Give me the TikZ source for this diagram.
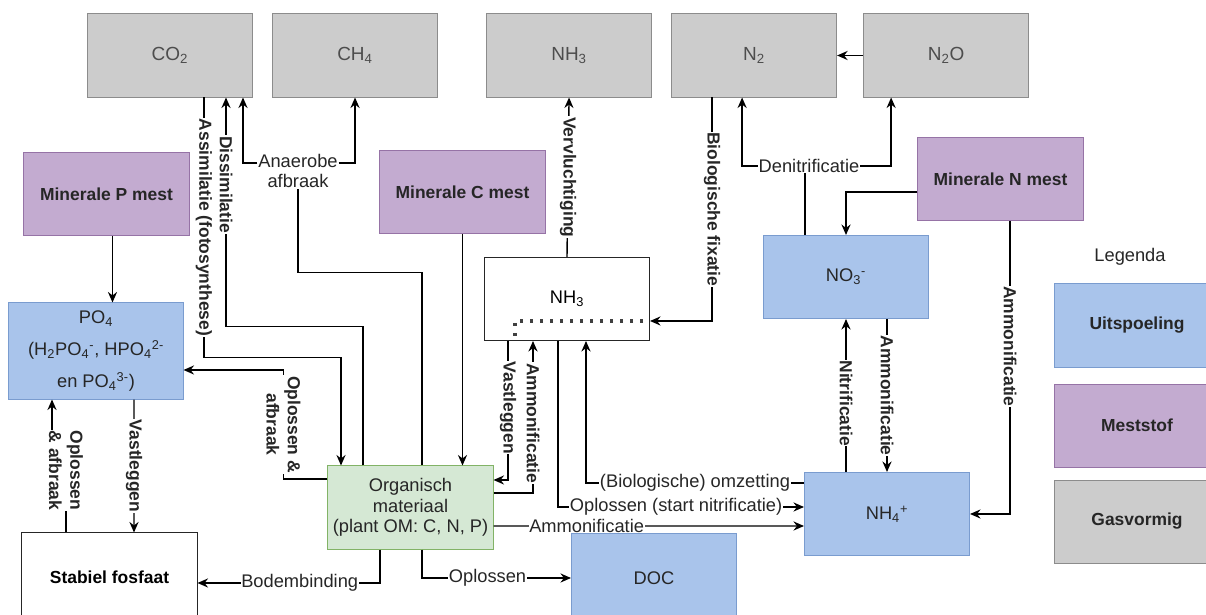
\documentclass[tikz,border=0pt]{standalone}
\usepackage{fontspec}
\setmainfont{Liberation Sans}
\usetikzlibrary{arrows.meta,calc,positioning}
\definecolor{gasfill}{HTML}{CCCCCC}
\definecolor{gasline}{HTML}{8C8C8C}
\definecolor{gastext}{HTML}{4D4D4D}
\definecolor{mestfill}{HTML}{C3ABD0}
\definecolor{mestline}{HTML}{9673A6}
\definecolor{poolfill}{HTML}{A9C4EB}
\definecolor{poolline}{HTML}{7A9CCF}
\definecolor{omfill}{HTML}{D5E8D4}
\definecolor{omline}{HTML}{82B366}
\tikzset{
  box/.style={minimum width=4.125cm, minimum height=2.075cm, line width=0.7pt, align=center, inner sep=2pt},
  gas/.style={box, fill=gasfill, draw=gasline, text=gastext, font=\fontsize{13.5}{15}\selectfont},
  mest/.style={box, fill=mestfill, draw=mestline, text=black!85, font=\fontsize{12.4}{15}\selectfont\bfseries},
  pool/.style={box, fill=poolfill, draw=poolline, text=black!85, font=\fontsize{13}{14.6}\selectfont},
  organic/.style={box, fill=omfill, draw=omline, text=black!85, font=\fontsize{13}{14.6}\selectfont},
  stock/.style={box, fill=white, draw=black!85, font=\fontsize{13}{14.6}\selectfont},
  flow/.style={-{Stealth[length=7.5pt,width=6.5pt,inset=2.5pt]}, line width=1pt},
  link/.style={line width=1pt},
  dots/.style={line width=2.2pt, dash pattern=on 2.2pt off 4.9pt, draw=black!75},
  lbl/.style={fill=white, inner sep=0.5pt, text=black!85, font=\fontsize{13}{14}\selectfont},
  vlbl/.style={lbl, rotate=-90, font=\fontsize{12.4}{15}\selectfont\bfseries}
}
\begin{document}
\begin{tikzpicture}[x=0.025cm, y=-0.025cm]
  \useasboundingbox (0,0) rectangle (1206,615);
  \clip (0,0) rectangle (1206,615);

  % gassen
  \node[gas] (co2) at (170,55.5) {CO\textsubscript{2}};
  \node[gas, right=0.475cm of co2] (ch4) {CH\textsubscript{4}};
  \node[gas, right=1.2cm of ch4] (nh3g) {NH\textsubscript{3}};
  \node[gas, right=0.475cm of nh3g] (ntwo) {N\textsubscript{2}};
  \node[gas, right=0.65cm of ntwo] (ntwoo) {N\textsubscript{2}O};

  % meststoffen
  \node[mest] (pmest) at (106.5,194) {Minerale P mest};
  \node[mest] (cmest) at (462.5,192) {Minerale C mest};
  \node[mest] (nmest) at (1000.5,179) {Minerale N mest};

  % bodem
  \node[pool, minimum width=4.35cm, minimum height=2.4cm, font=\fontsize{13}{23}\selectfont] (po4) at (96,351)
    {PO\textsubscript{4}\\(H\textsubscript{2}PO\textsubscript{4}\textsuperscript{-}, HPO\textsubscript{4}\textsuperscript{2-}\\en PO\textsubscript{4}\textsuperscript{3-})};
  \node[stock, minimum width=4.375cm, minimum height=2.2cm, font=\fontsize{12.4}{15}\selectfont\bfseries] (stab) at (109.5,577) {Stabiel fosfaat};
  \node[organic] (om) at (410.5,507.5) {Organisch\\materiaal\\(plant OM: C, N, P)};
  \node[stock] (nh3) at (567,299) {NH\textsubscript{3}};
  \node[pool] (no3) at (846,277) {NO\textsubscript{3}\textsuperscript{-}};
  \node[pool] (nh4) at (887,514) {NH\textsubscript{4}\textsuperscript{+}};
  \node[pool, minimum height=2.2cm] (doc) at (654,578) {DOC};

  % legenda
  \node[font=\fontsize{13}{15}\selectfont, text=black!85] (legenda) at (1130,257) {Legenda};
  \node[pool, font=\fontsize{12.4}{15}\selectfont\bfseries] (uits) at (1137,325.5) {Uitspoeling};
  \node[mest, below=0.4cm of uits] (mestleg) {Meststof};
  \node[gas, text=black!85, font=\fontsize{12.4}{15}\selectfont\bfseries, below=0.3cm of mestleg] (gasleg) {Gasvormig};

  % koolstof
  \draw[flow] ($(co2.south)+(34,0)$) -- node[vlbl]{Assimilatie (fotosynthese)} ++(0,260) -| ($(om.north)+(-69.5,0)$);
  \draw[flow] ($(om.north)+(-47.5,0)$) -- ++(0,-139) -| node[vlbl, pos=0.81]{Dissimilatie} ($(co2.south)+(56,0)$);
  \node[lbl, align=center] (anaer) at (298,171) {Anaerobe\\afbraak};
  \draw[link] ($(om.north)+(11.5,0)$) -- ++(0,-193) -| (anaer.south);
  \draw[flow] ($(anaer.west)+(0,-8)$) -| ($(co2.south)+(73,0)$);
  \draw[flow] ($(anaer.east)+(0,-8)$) -| (ch4.south);
  \draw[flow] (cmest.south) -- (cmest.south |- om.north);

  % fosfaat
  \draw[flow] ($(pmest.south)+(6,0)$) -- ($(po4.north)+(16.5,0)$);
  \draw[flow] ($(om.west)+(0,-28.5)$) -- ++(-44,0) |- node[vlbl, pos=0.25, align=center]{Oplossen \&\\afbraak} ($(po4.east)+(0,19)$);
  \draw[flow] ($(po4.south)+(38,0)$) -- node[vlbl]{Vastleggen} ($(stab.north)+(24.5,0)$);
  \draw[flow] ($(stab.north)+(-43.5,0)$) -- ++(0,-62) node[vlbl, align=center]{Oplossen\\\& afbraak} -| ($(po4.south)+(-44,0)$);
  \draw[flow] ($(om.south)+(-30.5,0)$) |- node[lbl, pos=0.72]{Bodembinding} ($(stab.east)+(0,6)$);
  \draw[flow] ($(om.south)+(11.5,0)$) |- node[lbl, pos=0.72]{Oplossen} (doc.west);

  % stikstof
  \draw[flow] ($(om.east)+(0,18.5)$) -- node[lbl, pos=0.3]{Ammonificatie} ($(nh4.west)+(0,12)$);
  \draw[flow] ($(nh3.south)+(-9,0)$) |- node[lbl, pos=0.74]{Oplossen (start nitrificatie)} ($(nh4.west)+(0,-7)$);
  \draw[flow] ($(nh4.west)+(0,-31)$) -| node[lbl, pos=0.25]{(Biologische) omzetting} ($(nh3.south)+(19,0)$);
  \draw[flow] ($(nh3.south)+(-59,0)$) |- node[vlbl, pos=0.24]{Vastleggen} ($(om.east)+(0,-27.5)$);
  \draw[flow] ($(om.east)+(0,-14.5)$) -| node[vlbl, pos=0.73]{Ammonificatie} ($(nh3.south)+(-34,0)$);
  \draw[flow] (nh3.north) -- node[vlbl]{Vervluchtiging} (nh3g.south);
  \draw[flow] ($(ntwo.south)+(-42,0)$) |- node[vlbl, pos=0.25]{Biologische fixatie} ($(nh3.east)+(0,22)$);
  \draw[dots] ($(nh3.east)+(-7,22)$) -| ($(nh3.south)+(-52,-3)$);
  \draw[flow] ($(no3.north)+(-41,0)$) -- ++(0,-69) -| ($(ntwo.south)+(-12,0)$);
  \draw[flow] ($(no3.north)+(-41,0)$) -- ++(0,-69) -| ($(ntwoo.south)+(-55,0)$);
  \node[lbl] (denit) at ($(no3.north)+(-37,-69)$) {Denitrificatie};
  \draw[flow] (ntwoo.west) -- (ntwo.east);
  \draw[flow] ($(nmest.west)+(0,13)$) -| (no3.north);
  \draw[flow] ($(nmest.south)+(9.5,0)$) |- node[vlbl, pos=0.214]{Ammonificatie} (nh4.east);
  \draw[flow] ($(nh4.north)+(-41,0)$) -- node[vlbl, pos=0.45]{Nitrificatie} (no3.south);
  \draw[flow] ($(no3.south)+(41,0)$) -- node[vlbl]{Ammonificatie} (nh4.north);
\end{tikzpicture}
\end{document}
